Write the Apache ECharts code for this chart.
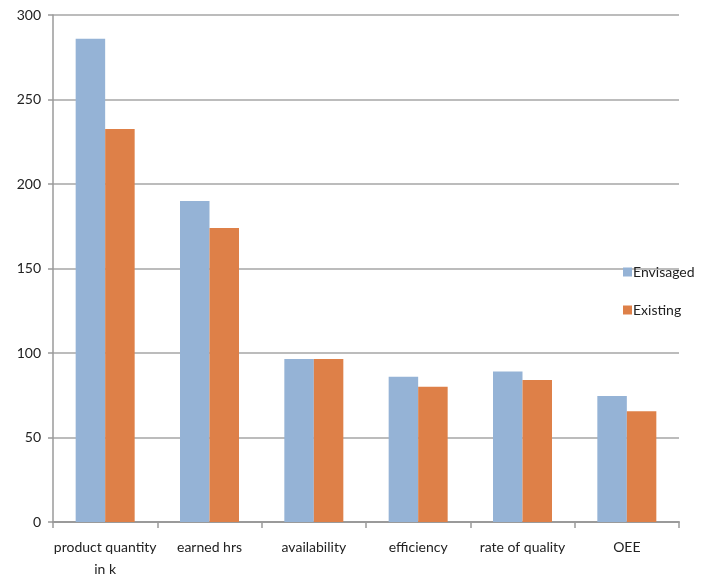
<!DOCTYPE html>
<html>
<head>
<meta charset="utf-8">
<script src="https://cdn.jsdelivr.net/npm/echarts@6/dist/echarts.min.js"></script>
<style>
  html, body { margin: 0; padding: 0; background: #fff; }
  #chart { width: 708px; height: 580px; }
</style>
</head>
<body>
<div id="chart"></div>
<script>
const categories = ['product quantity\nin k', 'earned hrs', 'availability', 'efficiency', 'rate of quality', 'OEE'];
const envisaged = [286, 190, 96.5, 86, 89, 74.5];
const existing = [232.5, 174, 96.5, 80, 84, 65.5];
const yTicks = { min: 0, max: 300, interval: 50 };

const chart = echarts.init(document.getElementById('chart'));
const font = 'Lato, "DejaVu Sans", sans-serif';

const option = {
  animation: false,
  textStyle: { fontFamily: font },
  grid: { left: 53, right: 29, top: 15, bottom: 57 },
  legend: {
    orient: 'vertical',
    left: 618,
    top: 260,
    itemWidth: 9,
    itemHeight: 9,
    itemGap: 24,
    icon: 'rect',
    textStyle: { fontSize: 14, color: '#222', padding: [0, 0, 0, -4] },
    data: ['Envisaged', 'Existing']
  },
  xAxis: {
    type: 'category',
    data: categories,
    axisLine: { lineStyle: { color: '#9a9a9a', width: 2 } },
    axisTick: { show: true, length: 6, lineStyle: { color: '#9a9a9a', width: 1.5 } },
    axisLabel: { color: '#222', fontSize: 14, margin: 14, lineHeight: 22, interval: 0 }
  },
  yAxis: {
    type: 'value',
    min: yTicks.min,
    max: yTicks.max,
    interval: yTicks.interval,
    axisLine: { show: true, lineStyle: { color: '#9a9a9a', width: 1.5 } },
    axisTick: { show: true, length: 5, lineStyle: { color: '#9a9a9a', width: 1.5 } },
    axisLabel: { color: '#222', fontSize: 14, margin: 12 },
    splitLine: { lineStyle: { color: '#a6a6a6', width: 1.5 } }
  },
  series: [
    {
      name: 'Envisaged',
      type: 'bar',
      data: envisaged,
      barWidth: 29.5,
      barGap: '0%',
      itemStyle: { color: '#95b3d6' }
    },
    {
      name: 'Existing',
      type: 'bar',
      data: existing,
      barWidth: 29.5,
      barGap: '0%',
      itemStyle: { color: '#de8048' }
    }
  ]
};

chart.setOption(option);
</script>
</body>
</html>
